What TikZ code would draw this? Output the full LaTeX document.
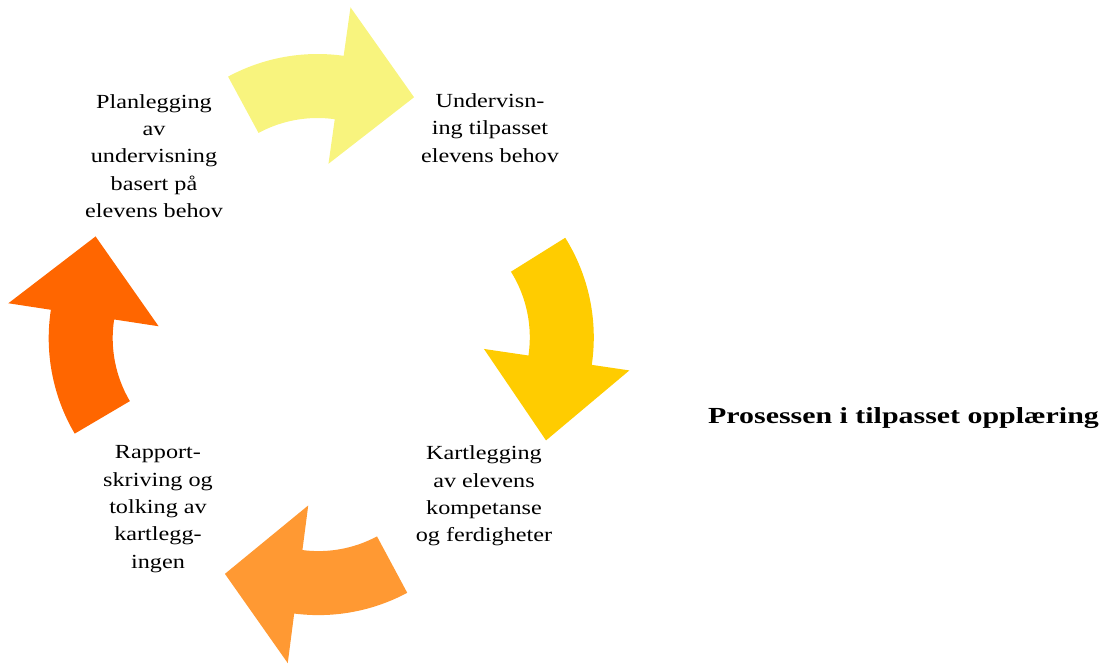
\documentclass[tikz,border=0pt]{standalone}
\usepackage{fontspec}
\setmainfont{Liberation Serif}[FakeStretch=1.21]
\newfontfamily\ttlfont{Liberation Serif}[FakeStretch=1.3]
\definecolor{cYellowPale}{HTML}{F8F47E}
\definecolor{cGold}{HTML}{FFCC00}
\definecolor{cOrangeLight}{HTML}{FF9933}
\definecolor{cOrange}{HTML}{FF6600}
% #1 colour, #2 centre, #3 tail angle, #4 head-base angle, #5 tip angle, #6 head outer radius
\newcommand\cycarrow[6]{%
  \begin{scope}[shift={#2}]
    \fill[#1] (#3:188pt) arc[start angle=#3, end angle=#4, radius=188pt]
      -- (#4:#6) -- (#5:174pt) -- (#4:79pt) -- (#4:124pt)
      arc[start angle=#4, end angle=#3, radius=124pt] -- cycle;
  \end{scope}}
\begin{document}
\begin{tikzpicture}[x=1pt,y=1pt,
  lbl/.style={align=center, inner sep=0pt, font=\fontsize{20}{27.4}\selectfont},
  ttl/.style={inner sep=0pt, font=\ttlfont\fontsize{23}{26}\selectfont\bfseries}]
\useasboundingbox (0,0) rectangle (1103,-665);
\cycarrow{cYellowPale}{(317.5,-242)}{118.4}{82.0}{56.3}{237pt}
\cycarrow{cGold}{(405.8,-337.4)}{32.0}{-8.4}{-36.3}{226pt}
\cycarrow{cOrangeLight}{(318.4,-427.1)}{-61.8}{-97.4}{-122.5}{238pt}
\cycarrow{cOrange}{(236.7,-338.2)}{210.5}{171.3}{144.2}{231pt}
\node[lbl] (plan) at (154,-156) {Planlegging\\av\\undervisning\\basert på\\elevens behov};
\node[lbl] (underv) at (490,-128) {Undervisn-\\ing tilpasset\\elevens behov};
\node[lbl] (kart) at (484,-496) {Kartlegging\\av elevens\\kompetanse\\og ferdigheter};
\node[lbl] (rapp) at (158,-509) {Rapport-\\skriving og\\tolking av\\kartlegg-\\ingen};
\node[ttl, anchor=base west] (title) at (708,-423) {Prosessen i tilpasset opplæring};
\end{tikzpicture}
\end{document}
